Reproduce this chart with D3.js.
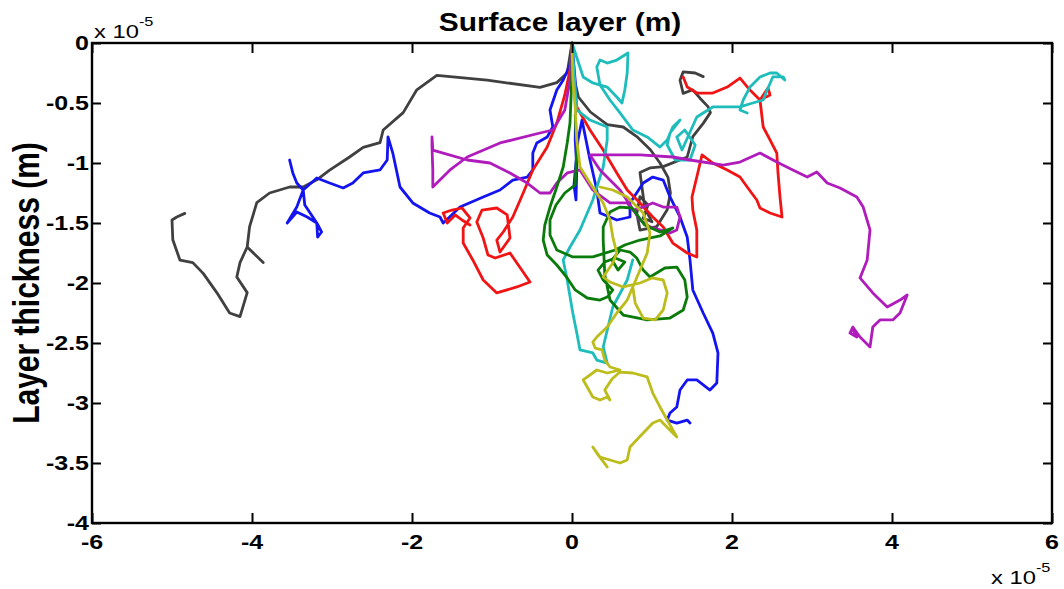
<!DOCTYPE html>
<html><head><meta charset="utf-8">
<script src="https://cdn.jsdelivr.net/npm/d3@7"></script>
<style>body{margin:0;background:#fff}svg{display:block}</style>
</head><body>
<svg id="chart" width="1064" height="589"></svg>
<script>
// ---- data (units of 1e-5 m) ----
const xTicks = [-6, -4, -2, 0, 2, 4, 6];
const yTicks = [0, -0.5, -1, -1.5, -2, -2.5, -3, -3.5, -4];
const xTickLabels = ["-6", "-4", "-2", "0", "2", "4", "6"];
const yTickLabels = ["0", "-0.5", "-1", "-1.5", "-2", "-2.5", "-3", "-3.5", "-4"];
const titleText = "Surface layer (m)";
const yLabelText = "Layer thickness (m)";

const trackBlack = [[-4.84,-1.42],[-4.94,-1.45],[-5.00,-1.475],[-4.99,-1.64],[-4.90,-1.81],[-4.74,-1.83],[-4.61,-1.92],[-4.44,-2.08],[-4.28,-2.25],[-4.15,-2.28],[-4.06,-2.08],[-4.19,-1.95],[-4.15,-1.83],[-4.06,-1.70],[-3.86,-1.83],[-4.06,-1.70],[-4.03,-1.53],[-3.94,-1.33],[-3.78,-1.25],[-3.53,-1.20],[-3.36,-1.20],[-3.19,-1.14],[-3.03,-1.06],[-2.78,-0.95],[-2.61,-0.87],[-2.40,-0.83],[-2.36,-0.725],[-2.11,-0.58],[-1.94,-0.39],[-1.69,-0.27],[-1.06,-0.31],[-0.40,-0.37],[-0.19,-0.33],[-0.06,-0.25],[0,0],[0.01,-0.25],[0.08,-0.45],[0.23,-0.575],[0.44,-0.68],[0.64,-0.70],[0.81,-0.78],[0.98,-0.89],[1.10,-1.00],[1.20,-1.12],[1.23,-1.25],[1.19,-1.39],[1.06,-1.53],[0.85,-1.56],[0.81,-1.42],[0.85,-1.28],[0.95,-1.35],[0.89,-1.46],[1.00,-1.49],[0.91,-1.375],[0.85,-1.08],[0.98,-1.04],[1.14,-1.03],[1.44,-0.95],[1.51,-0.78],[1.64,-0.67],[1.73,-0.58],[1.70,-0.53],[1.60,-0.46],[1.51,-0.39],[1.39,-0.42],[1.35,-0.31],[1.39,-0.24],[1.54,-0.25],[1.64,-0.28]];

const trackBlue = [[-3.53,-0.975],[-3.49,-1.083],[-3.44,-1.167],[-3.36,-1.225],[-3.44,-1.367],[-3.56,-1.50],[-3.44,-1.408],[-3.31,-1.45],[-3.19,-1.50],[-3.18,-1.617],[-3.13,-1.575],[-3.19,-1.50],[-3.34,-1.35],[-3.36,-1.225],[-3.19,-1.125],[-3.03,-1.167],[-2.86,-1.208],[-2.74,-1.167],[-2.61,-1.083],[-2.40,-1.058],[-2.31,-0.975],[-2.30,-0.783],[-2.24,-0.917],[-2.15,-1.20],[-1.99,-1.333],[-1.78,-1.417],[-1.65,-1.45],[-1.61,-1.50],[-1.53,-1.45],[-1.40,-1.367],[-1.11,-1.283],[-0.90,-1.225],[-0.74,-1.142],[-0.56,-1.117],[-0.49,-1.058],[-0.49,-0.917],[-0.44,-0.833],[-0.31,-0.783],[-0.24,-0.70],[-0.275,-0.558],[-0.19,-0.392],[-0.11,-0.308],[-0.025,-0.183],[0,0],[0.05,-0.392],[0.04,-0.808],[0.06,-1.033],[0.05,-1.308],[0.025,-1.183],[0.075,-0.808],[0.125,-0.642],[0.225,-0.975],[0.31,-1.225],[0.35,-1.417],[0.56,-1.475],[0.725,-1.45],[0.725,-1.333],[0.89,-1.167],[1.01,-1.117],[1.14,-1.142],[1.225,-1.283],[1.35,-1.45],[1.44,-1.617],[1.475,-1.808],[1.51,-2.058],[1.64,-2.25],[1.76,-2.417],[1.825,-2.583],[1.81,-2.833],[1.725,-2.892],[1.56,-2.808],[1.44,-2.808],[1.35,-2.892],[1.31,-3.033],[1.225,-3.083],[1.19,-3.142],[1.31,-3.167],[1.44,-3.142],[1.475,-3.167]];

const trackRed = [[-1.275,-1.517],[-1.375,-1.475],[-1.46,-1.433],[-1.56,-1.50],[-1.61,-1.417],[-1.50,-1.392],[-1.375,-1.375],[-1.275,-1.458],[-1.36,-1.542],[-1.36,-1.667],[-1.24,-1.808],[-1.11,-1.975],[-0.94,-2.083],[-0.69,-2.033],[-0.525,-1.992],[-0.775,-1.75],[-0.96,-1.792],[-1.05,-1.767],[-1.11,-1.625],[-1.19,-1.492],[-1.125,-1.392],[-0.94,-1.375],[-0.81,-1.433],[-0.775,-1.625],[-0.90,-1.742],[-0.94,-1.642],[-0.86,-1.575],[-0.74,-1.45],[-0.61,-1.25],[-0.49,-1.058],[-0.31,-0.867],[-0.19,-0.667],[-0.09,-0.433],[-0.025,-0.225],[0,0],[0.01,-0.25],[0.06,-0.533],[0.225,-0.725],[0.39,-0.892],[0.56,-1.083],[0.69,-1.225],[0.85,-1.333],[1.01,-1.45],[1.14,-1.533],[1.26,-1.667],[1.44,-1.75],[1.56,-1.783],[1.56,-1.558],[1.51,-1.392],[1.50,-1.283],[1.56,-1.117],[1.625,-0.933],[1.76,-1.00],[1.94,-1.058],[2.10,-1.117],[2.19,-1.20],[2.31,-1.308],[2.35,-1.375],[2.475,-1.417],[2.625,-1.45],[2.60,-1.283],[2.575,-1.083],[2.56,-0.917],[2.475,-0.808],[2.39,-0.70],[2.35,-0.475],[2.475,-0.433],[2.45,-0.375],[2.35,-0.475],[2.225,-0.392],[2.10,-0.292],[1.94,-0.367],[1.76,-0.417],[1.56,-0.417],[1.44,-0.367],[1.39,-0.283]];

const trackCyan = [[0.76,-1.808],[0.69,-1.975],[0.51,-2.20],[0.39,-2.533],[0.44,-2.667],[0.31,-2.642],[0.26,-2.583],[0.10,-2.558],[0.06,-2.417],[0.01,-2.25],[-0.06,-1.975],[-0.11,-1.808],[-0.025,-1.70],[0.10,-1.558],[0.26,-1.308],[0.39,-1.033],[0.44,-0.808],[0.44,-0.70],[0.225,-0.642],[0.06,-0.558],[0,0],[0.14,-0.283],[0.26,-0.333],[0.44,-0.367],[0.56,-0.45],[0.625,-0.50],[0.66,-0.392],[0.69,-0.25],[0.70,-0.083],[0.56,-0.142],[0.44,-0.167],[0.35,-0.142],[0.31,-0.20],[0.35,-0.35],[0.475,-0.475],[0.60,-0.583],[0.76,-0.725],[0.94,-0.783],[1.10,-0.867],[1.19,-0.808],[1.26,-0.70],[1.35,-0.642],[1.225,-0.75],[1.19,-0.85],[1.29,-0.975],[1.475,-0.975],[1.54,-0.85],[1.41,-0.725],[1.31,-0.783],[1.375,-0.892],[1.56,-0.617],[1.76,-0.533],[1.94,-0.533],[2.10,-0.533],[2.26,-0.50],[2.39,-0.475],[2.44,-0.392],[2.51,-0.283],[2.64,-0.283],[2.66,-0.308],[2.56,-0.25],[2.475,-0.25],[2.35,-0.283],[2.225,-0.367],[2.14,-0.475],[2.10,-0.558],[2.19,-0.583]];

const trackMagenta = [[0,0],[-0.025,-0.308],[-0.09,-0.558],[-0.24,-0.725],[-0.40,-0.75],[-0.90,-0.833],[-1.31,-0.95],[-1.525,-1.058],[-1.74,-1.20],[-1.74,-1.058],[-1.75,-0.867],[-1.75,-0.783],[-1.74,-0.892],[-1.61,-0.917],[-1.31,-0.975],[-1.025,-1.00],[-0.775,-1.083],[-0.56,-1.167],[-0.40,-1.25],[-0.275,-1.25],[-0.19,-1.167],[-0.06,-1.083],[0.10,-1.058],[0.26,-1.225],[0.475,-1.333],[0.69,-1.333],[0.76,-1.392],[0.89,-1.367],[1.01,-1.333],[1.14,-1.367],[1.31,-1.367],[1.35,-1.45],[1.31,-1.558],[1.225,-1.583],[1.10,-1.558],[0.975,-1.533],[0.85,-1.475],[0.60,-1.225],[0.35,-1.058],[0.225,-0.933],[0.44,-0.933],[0.85,-0.933],[1.26,-0.95],[1.475,-0.975],[1.89,-1.017],[2.10,-0.992],[2.35,-0.917],[2.56,-0.992],[2.76,-1.058],[2.94,-1.117],[3.06,-1.075],[3.19,-1.167],[3.35,-1.208],[3.56,-1.283],[3.64,-1.367],[3.725,-1.558],[3.69,-1.808],[3.60,-1.958],[3.76,-2.083],[3.94,-2.20],[4.10,-2.142],[4.19,-2.10],[4.10,-2.25],[4.01,-2.308],[3.85,-2.308],[3.76,-2.367],[3.725,-2.533],[3.60,-2.45],[3.51,-2.367],[3.475,-2.417],[3.56,-2.45],[3.51,-2.39]];

const trackGreen = [[0,0],[0,-0.25],[-0.025,-0.667],[-0.06,-0.833],[-0.11,-1.033],[-0.19,-1.20],[-0.275,-1.367],[-0.34,-1.517],[-0.36,-1.642],[-0.31,-1.767],[-0.19,-1.85],[-0.06,-1.958],[0.04,-2.058],[0.19,-2.125],[0.35,-2.142],[0.44,-2.117],[0.51,-2.058],[0.39,-1.975],[0.325,-1.892],[0.41,-1.825],[0.54,-1.792],[0.66,-1.825],[0.575,-1.892],[0.50,-1.808],[0.60,-1.725],[0.725,-1.742],[0.81,-1.792],[0.89,-1.892],[0.975,-1.95],[1.16,-1.875],[1.31,-1.867],[1.41,-1.975],[1.44,-2.117],[1.39,-2.225],[1.225,-2.292],[0.94,-2.308],[0.64,-2.267],[0.475,-2.142],[0.41,-1.933],[0.39,-1.642],[0.39,-1.533],[0.475,-1.408],[0.60,-1.367],[0.75,-1.375],[0.91,-1.517],[1.10,-1.575],[1.26,-1.542],[1.10,-1.608],[0.85,-1.642],[0.66,-1.683],[0.54,-1.725],[0.26,-1.783],[0.01,-1.783],[-0.19,-1.725],[-0.275,-1.60],[-0.275,-1.475],[-0.20,-1.35],[-0.09,-1.25],[0.04,-1.183],[0.06,-0.892],[0.04,-0.60]];

const trackYellow = [[0,0],[0.01,-0.308],[0.04,-0.533],[0.06,-0.808],[0.10,-1.033],[0.225,-1.167],[0.39,-1.333],[0.475,-1.475],[0.51,-1.617],[0.56,-1.75],[0.51,-1.833],[0.39,-1.95],[0.475,-1.992],[0.64,-2.033],[0.85,-2.00],[1.00,-1.958],[1.14,-1.975],[1.19,-2.083],[1.14,-2.225],[1.04,-2.308],[0.89,-2.292],[0.79,-2.167],[0.76,-2.033],[0.85,-1.892],[0.94,-1.75],[0.975,-1.583],[0.89,-1.417],[0.69,-1.283],[0.51,-1.225],[0.35,-1.20],[0.51,-1.225],[0.69,-1.283],[0.89,-1.417],[0.975,-1.583],[0.94,-1.75],[0.85,-1.892],[0.76,-2.033],[0.69,-2.142],[0.56,-2.25],[0.44,-2.367],[0.31,-2.45],[0.26,-2.492],[0.29,-2.542],[0.375,-2.558],[0.41,-2.642],[0.475,-2.70],[0.60,-2.725],[0.44,-2.75],[0.31,-2.725],[0.14,-2.808],[0.19,-2.867],[0.26,-2.95],[0.35,-2.975],[0.44,-2.95],[0.475,-2.975],[0.41,-2.892],[0.50,-2.80],[0.60,-2.742],[0.76,-2.75],[0.94,-2.783],[1.01,-2.917],[1.10,-3.033],[1.19,-3.142],[1.31,-3.283],[1.26,-3.25],[1.10,-3.142],[1.01,-3.167],[0.89,-3.25],[0.725,-3.367],[0.69,-3.475],[0.60,-3.50],[0.475,-3.475],[0.35,-3.45],[0.26,-3.367],[0.31,-3.417],[0.44,-3.533]];

const tracks = [trackBlack, trackBlue, trackRed, trackCyan, trackMagenta, trackGreen, trackYellow];
const trackColors = ["#404040", "#1414f0", "#f01414", "#1fbcbc", "#b01cbc", "#0a7a0a", "#bcbc1c"];

// ---- layout ----
const svg = d3.select("#chart");
const mLeft = 92, mRight = 1052, mTop = 43, mBottom = 523;
const x = d3.scaleLinear().domain([-6, 6]).range([mLeft, mRight]);
const y = d3.scaleLinear().domain([-4, 0]).range([mBottom, mTop]);
const font = "'Liberation Sans', Arial, Helvetica, sans-serif";
const stretch = 1.25;

const line = d3.line().x(d => x(d[0])).y(d => y(d[1]));
svg.append("g").selectAll("path").data(tracks).join("path")
  .attr("d", line)
  .attr("fill", "none")
  .attr("stroke", (d, i) => trackColors[i])
  .attr("stroke-width", 2.8)
  .attr("stroke-linejoin", "round")
  .attr("stroke-linecap", "round");

// axes (ticks inward on all four sides)
function styleAxis(g) {
  g.select(".domain").remove();
  g.selectAll(".tick line").attr("stroke", "#000").attr("stroke-width", 2);
}
svg.append("g").attr("transform", `translate(0,${mBottom})`)
  .call(d3.axisBottom(x).tickValues(xTicks).tickSize(-10).tickFormat("")).call(styleAxis);
svg.append("g").attr("transform", `translate(0,${mTop})`)
  .call(d3.axisTop(x).tickValues(xTicks).tickSize(-10).tickFormat("")).call(styleAxis);
svg.append("g").attr("transform", `translate(${mLeft},0)`)
  .call(d3.axisLeft(y).tickValues(yTicks).tickSize(-9).tickFormat("")).call(styleAxis);
svg.append("g").attr("transform", `translate(${mRight},0)`)
  .call(d3.axisRight(y).tickValues(yTicks).tickSize(-9).tickFormat("")).call(styleAxis);

svg.append("rect").attr("x", mLeft).attr("y", mTop).attr("width", mRight - mLeft).attr("height", mBottom - mTop)
  .attr("fill", "none").attr("stroke", "#000").attr("stroke-width", 2.4);

// tick labels
svg.append("g").selectAll("g").data(xTicks).join("g")
  .attr("transform", d => `translate(${x(d)},549) scale(${stretch},1)`)
  .append("text").attr("text-anchor", "middle")
  .attr("font-family", font).attr("font-weight", "bold").attr("font-size", 20)
  .text((d, i) => xTickLabels[i]);
svg.append("g").selectAll("g").data(yTicks).join("g")
  .attr("transform", d => `translate(89,${y(d) + 7}) scale(${stretch},1)`)
  .append("text").attr("text-anchor", "end")
  .attr("font-family", font).attr("font-weight", "bold").attr("font-size", 20)
  .text((d, i) => yTickLabels[i]);

// title
svg.append("g").attr("transform", `translate(560,31) scale(1.15,1)`)
  .append("text").attr("text-anchor", "middle")
  .attr("font-family", font).attr("font-weight", "bold").attr("font-size", 26)
  .text(titleText);

// y label
svg.append("g").attr("transform", `translate(39,283) scale(1.2,1) rotate(-90)`)
  .append("text").attr("text-anchor", "middle")
  .attr("font-family", font).attr("font-weight", "bold").attr("font-size", 30)
  .text(yLabelText);

// exponent labels
function expLabel(px, py) {
  const g = svg.append("g").attr("transform", `translate(${px},${py}) scale(1.25,1)`);
  const t = g.append("text").attr("font-family", font).attr("font-size", 19).attr("fill", "#000");
  t.append("tspan").text("x 10");
  t.append("tspan").attr("font-size", 13).attr("dy", -12).text("-5");
}
expLabel(94, 38);
expLabel(991, 584);
</script>
</body></html>
